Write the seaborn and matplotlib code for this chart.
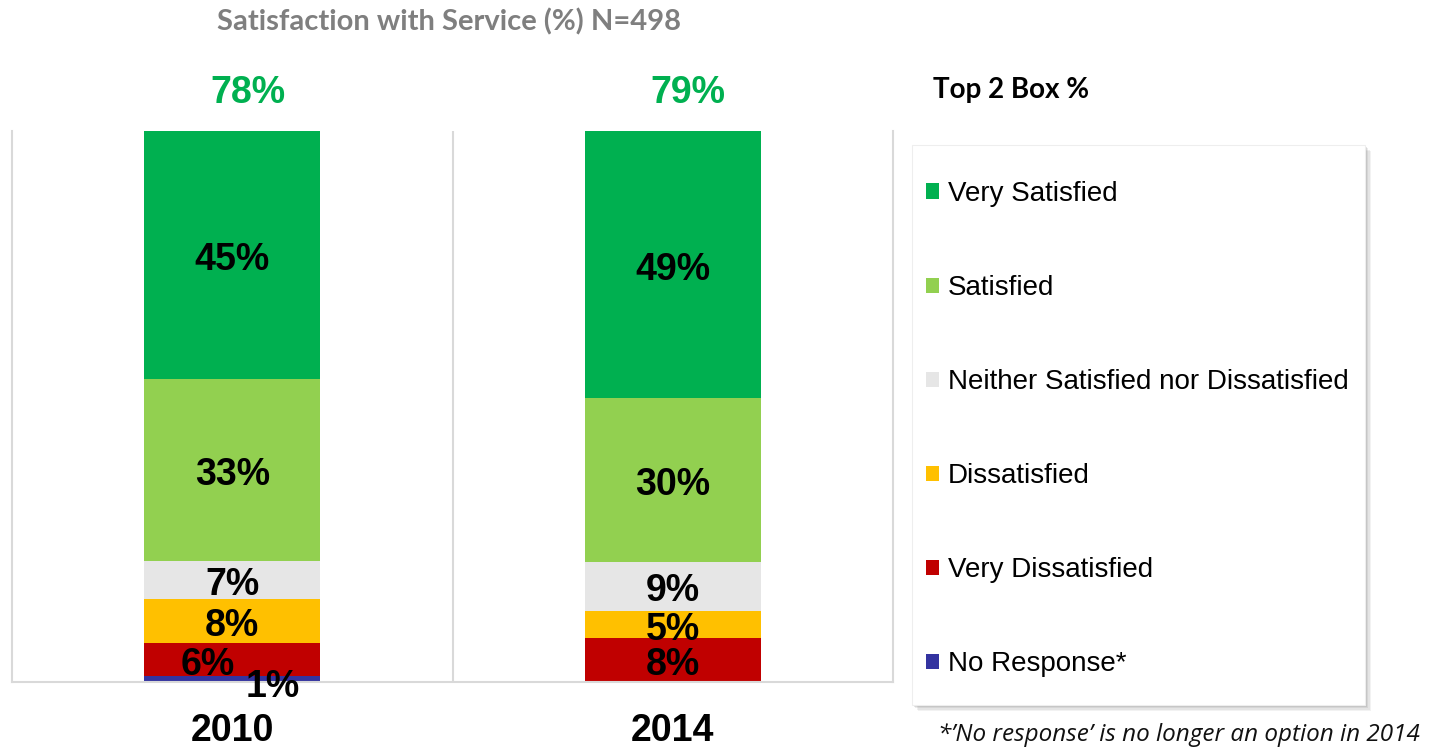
import matplotlib
matplotlib.use("Agg")
import matplotlib.pyplot as plt
import seaborn as sns
import numpy as np
import pandas as pd
from matplotlib.patches import Patch, Rectangle

# ---------------- data ----------------
years = ["2010", "2014"]
categories = ["No Response*", "Very Dissatisfied", "Dissatisfied",
              "Neither Satisfied nor Dissatisfied", "Satisfied", "Very Satisfied"]
no_response = [1, 0]
very_dissatisfied = [6, 8]
dissatisfied = [8, 5]
neither = [7, 9]
satisfied = [33, 30]
very_satisfied = [45, 49]
top2_box = [78, 79]
colors = ["#3333A0", "#C00000", "#FFC000", "#E6E6E6", "#92D050", "#00B050"]

# ---------------- setup ----------------
sns.set_theme(style="white")
plt.rcParams['font.family'] = ['Liberation Sans', 'DejaVu Sans']
plt.rcParams['text.color'] = 'black'

W, H = 1432, 748
fig = plt.figure(figsize=(W / 100, H / 100), dpi=100)
fig.patch.set_facecolor("white")
ax = fig.add_axes([12 / W, 1 - 682 / H, 881 / W, 551 / H])

series = np.array([no_response, very_dissatisfied, dissatisfied,
                   neither, satisfied, very_satisfied], dtype=float)
totals = series.sum(axis=0)
pct = series / totals * 100          # 100% stacked
cum = np.cumsum(pct, axis=0)

for i in reversed(range(len(categories))):
    df = pd.DataFrame({"year": years, "value": cum[i]})
    sns.barplot(data=df, x="year", y="value", color=colors[i], saturation=1,
                width=0.4, ax=ax, edgecolor="none", linewidth=0, errorbar=None)

ax.set_xlim(-0.5, 1.5)
ax.set_ylim(0, 100)
ax.set_yticks([])
ax.set_xlabel("")
ax.set_ylabel("")
grid_c = "#D9D9D9"
for s in ["left", "right", "bottom"]:
    ax.spines[s].set_color(grid_c)
    ax.spines[s].set_linewidth(1.5)
ax.spines["top"].set_visible(False)
ax.axvline(0.5, color=grid_c, lw=1.5, zorder=0)
ax.tick_params(axis="x", length=0, pad=22, labelsize=27)
for lab in ax.get_xticklabels():
    lab.set_fontweight("bold")
    lab.set_color("black")

# segment labels
offsets = {(1, 0): (-0.055, 0.0), (0, 0): (0.092, -0.5)}
for i in range(len(categories)):
    for j in range(len(years)):
        v = series[i, j]
        if v <= 0:
            continue
        yc = cum[i, j] - pct[i, j] / 2 - 0.9
        dx, dy = offsets.get((i, j), (0.0, 0.0))
        ax.text(j + dx, yc + dy, f"{int(v)}%", ha="center", va="center",
                fontsize=27, fontweight="bold", color="black", clip_on=False, zorder=5)

# top 2 box labels
for j in range(len(years)):
    ax.text(j + 0.035, 106.9, f"{top2_box[j]}%", ha="center", va="center",
            fontsize=27, fontweight="bold", color="#00B050", clip_on=False)

# title
fig.text(449 / W, 1 - 22 / H, "Satisfaction with Service (%) N=498", ha="center", va="center",
         fontsize=21, fontweight="bold", color="#7F7F7F", family=["Lato", "DejaVu Sans"])
fig.text(933 / W, 1 - 90 / H, "Top 2 Box %", ha="left", va="center",
         fontsize=20, fontweight="bold", color="black", family=["Lato", "DejaVu Sans"])

# legend frame with shadow
lx, ly, lw_, lh = 912, 145, 453, 560
for k, a in enumerate([0.10, 0.12, 0.15, 0.2]):
    off = 6 - k * 1.3
    fig.add_artist(Rectangle(((lx + off) / W, 1 - (ly + lh + off) / H), lw_ / W, lh / H,
                             transform=fig.transFigure, facecolor="#808080", alpha=a,
                             edgecolor="none", zorder=1))
fig.add_artist(Rectangle((lx / W, 1 - (ly + lh) / H), lw_ / W, lh / H,
                         transform=fig.transFigure, facecolor="white",
                         edgecolor="#EEEEEE", lw=0.8, zorder=2))

handles = [Patch(facecolor=colors[i], edgecolor="none", label=categories[i])
           for i in reversed(range(len(categories)))]
leg = fig.legend(handles=handles, loc="upper left", bbox_to_anchor=(926 / W, 1 - 181 / H),
                 frameon=False, fontsize=20, labelspacing=2.45, handlelength=0.47,
                 handleheight=0.47, handletextpad=0.32, borderpad=0, borderaxespad=0)
leg.set_zorder(3)
for t in leg.get_texts():
    t.set_color("black")

fig.text(1420 / W, 1 - 735 / H, "*\u2019No response\u2019 is no longer an option in 2014",
         ha="right", va="center", fontsize=17.5, style="italic", color="#111111",
         family=["Open Sans", "DejaVu Sans"])

fig.savefig("out.png", dpi=100, facecolor="white")
